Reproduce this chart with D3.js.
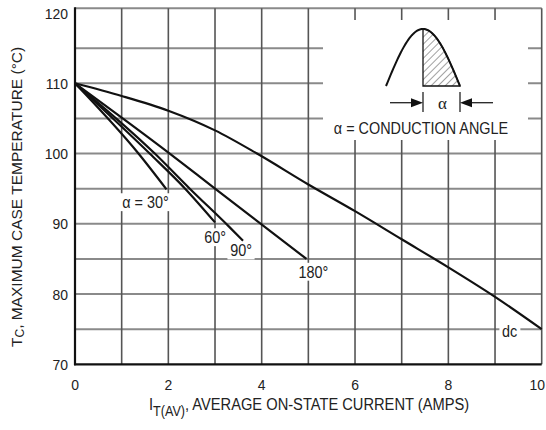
<!DOCTYPE html>
<html>
<head>
<meta charset="utf-8">
<script src="https://cdn.jsdelivr.net/npm/d3@7/dist/d3.min.js"></script>
<style>
  html, body { margin: 0; padding: 0; background: #fff; }
  svg { display: block; }
  text { font-family: "Liberation Sans Narrow", "Arial Narrow", "Liberation Sans", Arial, sans-serif; fill: #222; }
</style>
</head>
<body>
<svg id="chart" width="546" height="430"></svg>
<script>
// values (amps, degrees C)
var currentTicks = [0, 2, 4, 6, 8, 10];
var tempTicks = [70, 80, 90, 100, 110, 120];
var currentGrid = [1, 2, 3, 4, 5, 6, 7, 8, 9, 10];
var tempGrid = [75, 80, 85, 90, 95, 100, 105, 110, 115];

var angle30 = [[0, 110], [1.36, 100], [1.96, 94.9]];
var angle60 = [[0, 110], [1.6, 100], [2.36, 95], [3.0, 90.2]];
var angle90 = [[0, 110], [1.71, 100], [2.46, 95], [3.3, 89.6], [3.6, 87.6]];
var angle180 = [[0, 110], [2.03, 100], [3.0, 95], [4.96, 85]];
var dcValues = [[0, 110], [1, 108.2], [2, 106.1], [3, 103.3], [3.9, 100], [5, 95.6],
  [6, 91.8], [7, 87.8], [8, 83.8], [9, 79.6], [10, 75]];

var seriesNames = ['\u03b1 = 30\u00b0', '60\u00b0', '90\u00b0', '180\u00b0', 'dc'];
var seriesValues = [angle30, angle60, angle90, angle180, dcValues];
// label offset from the end of each curve, px
var labelOffsets = [[-21, 13], [0, 15], [-2, 10], [7, 13], [-32, 2]];

var SQ = 0.9; // the reference lettering is a narrow face

var svg = d3.select('#chart');
var x = d3.scaleLinear().domain([0, 10]).range([75, 541.7]);
var y = d3.scaleLinear().domain([70, 120]).range([364.3, 13.05]);
var yTop = 120.7;

function squeezed(parent, px, py) {
  return parent.append('g')
    .attr('transform', 'translate(' + px + ',' + py + ') scale(' + SQ + ',1)');
}

// grid
var grid = svg.append('g').attr('class', 'grid');
grid.selectAll('.hgrid')
  .data(tempGrid.concat([yTop]))
  .enter().append('line')
  .attr('x1', x(0)).attr('x2', x(10))
  .attr('y1', function (d) { return y(d); })
  .attr('y2', function (d) { return y(d); })
  .style('stroke', '#8a8a8a')
  .style('stroke-width', 2);
grid.selectAll('.vgrid')
  .data(currentGrid)
  .enter().append('line')
  .attr('x1', function (d) { return x(d); })
  .attr('x2', function (d) { return x(d); })
  .attr('y1', y(yTop)).attr('y2', y(70))
  .style('stroke', '#555')
  .style('stroke-width', 1.6);

// white box behind the inset
svg.append('rect')
  .attr('x', 323).attr('y', 20)
  .attr('width', 205).attr('height', 120)
  .style('fill', '#fff');

// axes lines
svg.append('line')
  .attr('x1', x(0)).attr('x2', x(0))
  .attr('y1', y(yTop) - 1).attr('y2', y(70) + 1)
  .style('stroke', '#111').style('stroke-width', 2.2);
svg.append('line')
  .attr('x1', x(0) - 1).attr('x2', x(10))
  .attr('y1', y(70)).attr('y2', y(70))
  .style('stroke', '#111').style('stroke-width', 2.2);

// tick labels
tempTicks.forEach(function (d) {
  squeezed(svg, 68, y(d)).append('text')
    .attr('dy', '0.36em')
    .attr('text-anchor', 'end')
    .style('font-size', '15.5px')
    .text(d);
});
currentTicks.forEach(function (d, i) {
  var last = i === currentTicks.length - 1;
  squeezed(svg, last ? 545 : x(d), 390).append('text')
    .attr('text-anchor', last ? 'end' : 'middle')
    .style('font-size', '15.5px')
    .text(d);
});

// axis titles
var xt = squeezed(svg, 149, 410).append('text')
  .style('font-size', '16.3px');
xt.append('tspan').text('I');
xt.append('tspan').attr('dy', 6).style('font-size', '14px').text('T(AV)');
xt.append('tspan').attr('dy', -6).text(', AVERAGE ON-STATE CURRENT (AMPS)');

var yt = svg.append('text')
  .attr('transform', 'translate(22,347) rotate(-90)')
  .style('font-size', '15.5px');
yt.append('tspan').text('T');
yt.append('tspan').attr('dy', 2).style('font-size', '12px').text('C');
yt.append('tspan').attr('dy', -2).text(', MAXIMUM CASE TEMPERATURE (\u00b0C)');

// curve labels with white knockout
var line = d3.line()
  .x(function (d) { return x(d[0]); })
  .y(function (d) { return y(d[1]); })
  .curve(d3.curveMonotoneX);

var labels = svg.append('g').attr('class', 'labels');
seriesValues.forEach(function (vals, i) {
  var last = vals[vals.length - 1];
  var g = squeezed(labels, x(last[0]) + labelOffsets[i][0], y(last[1]) + labelOffsets[i][1]);
  var t = g.append('text')
    .attr('dy', '0.35em')
    .attr('text-anchor', 'middle')
    .style('font-size', '16px')
    .text(seriesNames[i]);
  var b = t.node().getBBox();
  g.insert('rect', 'text')
    .attr('x', b.x - 3).attr('y', b.y)
    .attr('width', b.width + 6).attr('height', b.height)
    .style('fill', '#fff');
});

// curves
svg.append('g').attr('class', 'curves')
  .selectAll('path')
  .data(seriesValues)
  .enter().append('path')
  .attr('d', function (d) { return line(d); })
  .style('fill', 'none')
  .style('stroke', '#111')
  .style('stroke-width', 2.2);

// inset: conduction angle sketch
var inset = svg.append('g').attr('class', 'inset');
var defs = svg.append('defs');
defs.append('pattern')
  .attr('id', 'hatch')
  .attr('patternUnits', 'userSpaceOnUse')
  .attr('width', 5).attr('height', 5)
  .attr('patternTransform', 'rotate(45)')
  .append('line')
  .attr('x1', 0).attr('y1', 0).attr('x2', 0).attr('y2', 5)
  .style('stroke', '#444').style('stroke-width', 1);

var wx = d3.scaleLinear().domain([0, 180]).range([386, 460]);
var wy = d3.scaleLinear().domain([0, 1]).range([86, 29]);
var deg = d3.range(0, 181, 3);
var wave = d3.line()
  .x(function (d) { return wx(d); })
  .y(function (d) { return wy(Math.sin(d * Math.PI / 180)); });
var shade = deg.filter(function (d) { return d >= 90; });
inset.append('path')
  .attr('d', wave(shade) + 'L' + wx(90) + ',' + wy(0) + 'Z')
  .style('fill', 'url(#hatch)')
  .style('stroke', '#111')
  .style('stroke-width', 1.3);
inset.append('path')
  .attr('d', wave(deg))
  .style('fill', 'none')
  .style('stroke', '#111')
  .style('stroke-width', 2);

var ay = 102.7;
var lx = wx(90), rx = wx(180);
inset.append('line').attr('x1', lx).attr('x2', lx).attr('y1', 92).attr('y2', 112)
  .style('stroke', '#222').style('stroke-width', 1.3);
inset.append('line').attr('x1', rx).attr('x2', rx).attr('y1', 92).attr('y2', 112)
  .style('stroke', '#222').style('stroke-width', 1.3);
inset.append('line').attr('x1', 390).attr('x2', lx - 4).attr('y1', ay).attr('y2', ay)
  .style('stroke', '#222').style('stroke-width', 1.3);
inset.append('line').attr('x1', 493).attr('x2', rx + 4).attr('y1', ay).attr('y2', ay)
  .style('stroke', '#222').style('stroke-width', 1.3);
inset.append('path')
  .attr('d', 'M' + (lx - 12) + ',' + (ay - 4.5) + 'L' + lx + ',' + ay + 'L' + (lx - 12) + ',' + (ay + 4.5) + 'Z')
  .style('fill', '#111');
inset.append('path')
  .attr('d', 'M' + (rx + 12) + ',' + (ay - 4.5) + 'L' + rx + ',' + ay + 'L' + (rx + 12) + ',' + (ay + 4.5) + 'Z')
  .style('fill', '#111');
inset.append('text')
  .attr('x', (lx + rx) / 2 + 1).attr('y', ay)
  .attr('dy', '0.35em')
  .attr('text-anchor', 'middle')
  .style('font-family', '"Liberation Serif", "DejaVu Serif", serif')
  .style('font-size', '17px')
  .text('\u03b1');
squeezed(inset, 421, 134).append('text')
  .attr('text-anchor', 'middle')
  .style('font-size', '16px')
  .text('\u03b1 = CONDUCTION ANGLE');
</script>
</body>
</html>
